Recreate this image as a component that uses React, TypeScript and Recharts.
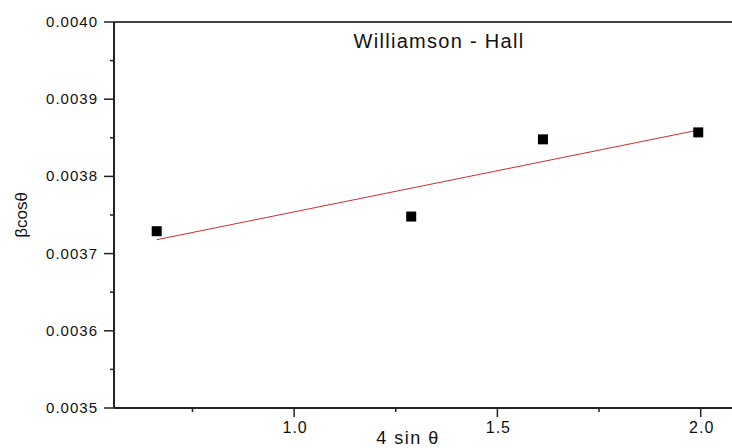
import React from 'react';
import { ScatterChart, Scatter, XAxis, YAxis, ReferenceLine } from 'recharts';

// measured points (4 sin θ, β cos θ)
const sinTheta4 = [0.662, 1.288, 1.612, 1.994];
const betaCos = [0.003729, 0.003748, 0.003848, 0.003857];

// linear fit end points
const fitX = [0.662, 1.994];
const fitY = [0.003718, 0.00386];

const xTicks = [0.75, 1.0, 1.25, 1.5, 1.75, 2.0];
const xMajor = [1.0, 1.5, 2.0];
const yTicks = [0.0035, 0.00355, 0.0036, 0.00365, 0.0037, 0.00375, 0.0038, 0.00385, 0.0039, 0.00395, 0.004];
const yMajor = [0.0035, 0.0036, 0.0037, 0.0038, 0.0039, 0.004];

const points = sinTheta4.map((x, i) => ({ x, y: betaCos[i] }));
const fit = fitX.map((x, i) => ({ x, y: fitY[i] }));

const FONT = '"Liberation Sans", Arial, sans-serif';
const AXIS = '#222';

const isMajor = (list: number[], v: number) => list.some((m) => Math.abs(m - v) < 1e-9);

const XTick = (props: any) => {
  const { x, y, payload } = props;
  const major = isMajor(xMajor, payload.value);
  return (
    <g>
      <line x1={x} x2={x} y1={y} y2={y + (major ? 9 : 4)} stroke={AXIS} strokeWidth={1.5} />
      {major && (
        <text x={x + 1} y={y + 25} textAnchor="middle" fontSize={16} fill="#111" fontFamily={FONT} letterSpacing={1}>
          {payload.value.toFixed(1)}
        </text>
      )}
    </g>
  );
};

const YTick = (props: any) => {
  const { x, y, payload } = props;
  const major = isMajor(yMajor, payload.value);
  return (
    <g>
      <line x1={x} x2={x - (major ? 10 : 4)} y1={y} y2={y} stroke={AXIS} strokeWidth={1.5} />
      {major && (
        <text x={x - 16} y={y + 5} textAnchor="end" fontSize={15} fill="#111" fontFamily={FONT} letterSpacing={1}>
          {payload.value.toFixed(4)}
        </text>
      )}
    </g>
  );
};

const Square = (props: any) => {
  const { cx, cy } = props;
  return <rect x={cx - 5} y={cy - 5} width={10} height={10} fill="#000" />;
};

export default function App() {
  return (
    <div style={{ position: 'absolute', left: 0, top: 0, width: 732, height: 448, background: '#fff' }}>
      <ScatterChart width={732} height={448} margin={{ top: 22, right: 0, bottom: 0, left: 0 }}>
        <XAxis
          type="number"
          dataKey="x"
          domain={[0.557, 2.077]}
          ticks={xTicks}
          tick={<XTick />}
          tickLine={false}
          tickSize={0}
          tickMargin={0}
          height={40}
          axisLine={{ stroke: AXIS, strokeWidth: 2 }}
          allowDataOverflow
        />
        <YAxis
          type="number"
          dataKey="y"
          domain={[0.0035, 0.004]}
          ticks={yTicks}
          tick={<YTick />}
          tickLine={false}
          tickSize={0}
          tickMargin={0}
          width={114}
          axisLine={{ stroke: AXIS, strokeWidth: 2 }}
          allowDataOverflow
        />
        <ReferenceLine y={0.004} stroke="#444" strokeWidth={2} />
        <Scatter
          data={fit}
          line={{ stroke: '#cc2e2e', strokeWidth: 1 }}
          shape={() => null}
          isAnimationActive={false}
        />
        <Scatter data={points} shape={<Square />} isAnimationActive={false} />
      </ScatterChart>
      <div style={{ position: 'absolute', left: 339, width: 200, top: 30, textAlign: 'center', fontFamily: FONT, fontSize: 20, color: '#111', letterSpacing: 1.3, whiteSpace: 'nowrap' }}>
        Williamson - Hall
      </div>
      <div style={{ position: 'absolute', left: 308, width: 200, top: 428, textAlign: 'center', fontFamily: FONT, fontSize: 18, color: '#111', letterSpacing: 1.5, whiteSpace: 'nowrap' }}>
        4 sin θ
      </div>
      <div
        style={{
          position: 'absolute',
          left: -78,
          width: 200,
          top: 205,
          textAlign: 'center',
          fontFamily: FONT,
          fontSize: 17,
          color: '#111',
          transform: 'rotate(-90deg)',
        }}
      >
        βcosθ
      </div>
    </div>
  );
}
